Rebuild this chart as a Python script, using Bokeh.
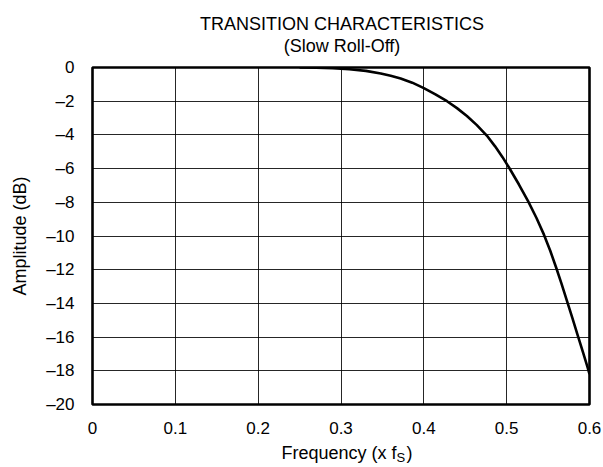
from bokeh.plotting import figure
from bokeh.models import Range1d, FixedTicker, CustomJSTickFormatter
from bokeh.layouts import column
from bokeh.core.properties import value
from bokeh.embed import file_html
from bokeh.resources import INLINE

# ---- data ----
freq = [0.25, 0.27, 0.29, 0.31, 0.33, 0.348, 0.36, 0.372, 0.386, 0.40, 0.414, 0.428,
        0.44, 0.452, 0.464, 0.476, 0.486, 0.495, 0.503, 0.515, 0.526, 0.536, 0.545,
        0.5525, 0.5595, 0.566, 0.5725, 0.579, 0.5855, 0.592, 0.5977, 0.60]
amp = [0.0, -0.01, -0.04, -0.10, -0.20, -0.36, -0.49, -0.65, -0.90, -1.22, -1.59, -2.0,
       -2.41, -2.88, -3.42, -4.04, -4.68, -5.32, -5.95, -6.96, -7.95, -8.93, -9.92,
       -10.86, -11.84, -12.8, -13.8, -14.82, -15.85, -16.88, -17.8, -18.2]
x_ticks = [0, 0.1, 0.2, 0.3, 0.4, 0.5, 0.6]
y_ticks = [-20, -18, -16, -14, -12, -10, -8, -6, -4, -2, 0]
title_1 = "TRANSITION CHARACTERISTICS"
title_2 = "(Slow Roll-Off)"
x_label = "Frequency (x f"
x_label_sub = "S"
x_label_end = ")"
y_label = "Amplitude (dB)"

FONT = "Liberation Sans"
FS = "17px"
FS_L = "18px"

W = 603
HEAD_H, MAIN_H, FOOT_H = 57, 382, 28
FL, FR = 92, 589            # frame left/right (page px)
FT_B, FB_B = 10, 35         # main figure top/bottom borders
DY = -7                     # baseline correction for svg text in the strips

# ---------- main chart ----------
p = figure(width=W, height=MAIN_H, output_backend="svg", toolbar_location=None,
           title_location=None,
           x_range=Range1d(0, 0.6), y_range=Range1d(-20, 0),
           min_border_left=FL, min_border_right=W - FR, min_border_top=FT_B,
           min_border_bottom=FB_B)

p.line(freq, amp, line_color="black", line_width=2.6)

for g in (p.xgrid, p.ygrid):
    g.grid_line_color = "black"
    g.grid_line_width = 1
    g.grid_line_alpha = 0.85
p.xgrid.ticker = FixedTicker(ticks=x_ticks)
p.ygrid.ticker = FixedTicker(ticks=y_ticks)

p.outline_line_color = "black"
p.outline_line_width = 2.6
p.outline_line_alpha = 1

for ax in (p.xaxis[0], p.yaxis[0]):
    ax.axis_line_color = None
    ax.major_tick_line_color = None
    ax.minor_tick_line_color = None
    ax.major_tick_in = 0
    ax.major_tick_out = 0
    ax.major_label_text_font = FONT
    ax.major_label_text_font_size = FS
    ax.major_label_text_color = "black"
p.xaxis[0].major_label_standoff = 17
p.yaxis[0].major_label_standoff = 18

p.yaxis[0].axis_label = y_label
p.yaxis[0].axis_label_text_font = FONT
p.yaxis[0].axis_label_text_font_size = FS_L
p.yaxis[0].axis_label_text_font_style = "normal"
p.yaxis[0].axis_label_text_color = "black"
p.yaxis[0].axis_label_standoff = 13

p.xaxis[0].ticker = FixedTicker(ticks=x_ticks)
p.yaxis[0].ticker = FixedTicker(ticks=y_ticks)
p.xaxis[0].formatter = CustomJSTickFormatter(code="return tick == 0 ? '0' : tick.toFixed(1);")
p.yaxis[0].formatter = CustomJSTickFormatter(code="return tick < 0 ? '\u2013' + Math.abs(tick) : String(tick);")

# ---------- text strips (data x = page column, data y = page row) ----------
def strip(top, height):
    f = figure(width=W, height=height, output_backend="svg", toolbar_location=None,
               title_location=None,
               x_range=Range1d(FL, FR), y_range=Range1d(top + height, top),
               x_axis_type=None, y_axis_type=None,
               min_border_left=FL, min_border_right=W - FR, min_border_top=0,
               min_border_bottom=0)
    f.outline_line_color = None
    f.xgrid.visible = False
    f.ygrid.visible = False
    return f

cx = (FL + FR) / 2 + 1
head = strip(0, HEAD_H)
head.text(x=[cx, cx], y=[30.7 + DY, 52.8 + DY], text=[title_1, title_2],
          text_font=value(FONT), text_font_size=value(FS_L), text_align="center",
          text_baseline="alphabetic", text_color="black")

foot_top = HEAD_H + MAIN_H
foot = strip(foot_top, FOOT_H)
x0 = 281
foot.text(x=[x0], y=[459.5 + DY], text=[x_label], text_font=value(FONT),
          text_font_size=value(FS_L), text_align="left", text_baseline="alphabetic",
          text_color="black")
foot.text(x=[x0 + 115], y=[463.5 + DY], text=[x_label_sub], text_font=value(FONT),
          text_font_size=value("13px"), text_align="left", text_baseline="alphabetic",
          text_color="black")
foot.text(x=[x0 + 125], y=[459.5 + DY], text=[x_label_end], text_font=value(FONT),
          text_font_size=value(FS_L), text_align="left", text_baseline="alphabetic",
          text_color="black")

layout = column(head, p, foot, spacing=0)
open("out.html", "w", encoding="utf-8").write(file_html(layout, INLINE))
